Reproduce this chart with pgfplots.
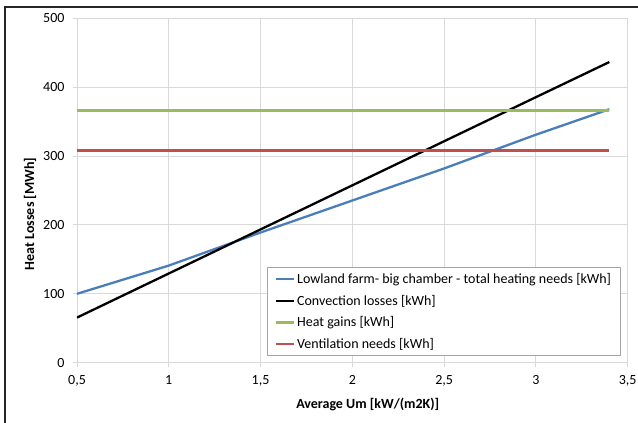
\documentclass[border=0pt]{standalone}
\usepackage{fontspec}
\setmainfont{Carlito}
\usepackage{pgfplots}
\pgfplotsset{compat=1.18}

\definecolor{xlblue}{HTML}{4A7EBB}
\definecolor{xlred}{HTML}{C0504D}
\definecolor{xlgreen}{HTML}{9BBB59}
\definecolor{gridgray}{HTML}{D9D9D9}

\begin{document}
\begin{tikzpicture}[x=1pt,y=1pt]
\begin{axis}[
    at={(0,0)}, anchor=south west,
    scale only axis, width=550.7pt, height=344.4pt,
    xmin=0.5, xmax=3.5, ymin=0, ymax=500,
    xtick={0.5,1,...,3.5}, ytick={0,100,...,500},
    grid=major, grid style={gridgray, line width=0.9pt},
    axis line style={gridgray, line width=0.9pt},
    tick style={gridgray, line width=0.9pt},
    tick align=outside, major tick length=4pt,
    xtick pos=bottom, ytick pos=left,
    font=\fontsize{14}{16}\selectfont,
    /pgf/number format/use comma,
    /pgf/number format/assume math mode=true,
    yticklabel style={anchor=east, xshift=-5pt},
    xticklabel style={anchor=north, yshift=-5pt},
    xlabel={\textbf{Average Um [kW/(m2K)]}},
    ylabel={\textbf{Heat Losses [MWh]}},
    xlabel style={at={(rel axis cs:0.528,0)}, anchor=center, yshift=-41.6pt},
    ylabel style={at={(rel axis cs:0,0.432)}, anchor=center, rotate=0, yshift=47pt},
    legend cell align=left,
    legend style={at={(rel axis cs:0.987,0.278)}, anchor=north east,
        draw=gray!70, line width=0.9pt, fill=white,
        font=\fontsize{14}{16}\selectfont,
        inner xsep=7pt, inner ysep=4pt, row sep=6pt},
    legend image code/.code={\draw[#1] (0pt,0pt) -- (18pt,0pt);},
]
\addplot[xlblue, line width=2.3pt] coordinates {
    (0.5,100) (1,141) (1.5,189) (2,235.5) (2.5,282) (3,331) (3.4,368)};
\addlegendentry{Lowland farm- big chamber - total heating needs [kWh]}
\addplot[black, line width=2.3pt] coordinates {
    (0.5,65.5) (1,129.5) (1.5,193.5) (2,257.5) (2.5,321.5) (3,385.5) (3.4,436.5)};
\addlegendentry{Convection losses [kWh]}
\addplot[xlgreen, line width=2.3pt] coordinates {(0.5,366) (3.4,366)};
\addlegendentry{Heat gains [kWh]}
\addplot[xlred, line width=2.3pt] coordinates {(0.5,308) (3.4,308)};
\addlegendentry{Ventilation needs [kWh]}
\end{axis}
\draw[black!85, line width=1.8pt] (-72,-80) rectangle (580,356);
\pgfresetboundingbox
\useasboundingbox (-77,-60.3) rectangle (561,362.7);
\end{tikzpicture}
\end{document}
